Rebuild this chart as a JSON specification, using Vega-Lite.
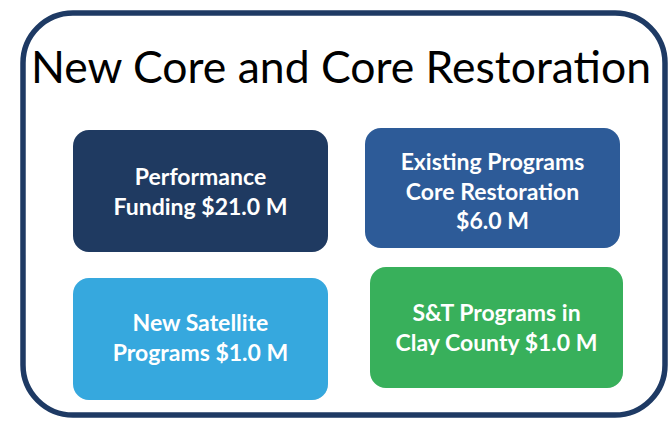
{
  "$schema": "https://vega.github.io/schema/vega-lite/v6.json",
  "width": 672,
  "height": 422,
  "padding": 0,
  "autosize": {"type": "fit", "contains": "padding"},
  "background": "white",
  "config": {"view": {"stroke": null}},
  "datasets": {
    "frame": [{"x0": 23, "x1": 665, "y0": 13, "y1": 415}],
    "title": [{"label": "New Core and Core Restoration", "x": 31, "y": 83}],
    "boxes": [
      {"name": "Performance Funding", "label": "Performance\nFunding $21.0 M", "x0": 73, "x1": 328, "y0": 130, "y1": 252, "tx": 200.5, "ty": 178},
      {"name": "Existing Programs", "label": "Existing Programs\nCore Restoration\n$6.0 M", "x0": 365, "x1": 620, "y0": 128, "y1": 248, "tx": 492.5, "ty": 163},
      {"name": "New Satellite", "label": "New Satellite\nPrograms $1.0 M", "x0": 73, "x1": 328, "y0": 278, "y1": 400, "tx": 200.5, "ty": 324},
      {"name": "S&T Clay County", "label": "S&T Programs in\nClay County $1.0 M", "x0": 370, "x1": 623, "y0": 267, "y1": 388, "tx": 496.5, "ty": 314}
    ]
  },
  "layer": [
    {
      "data": {"name": "frame"},
      "mark": {"type": "rect", "fill": "white", "stroke": "#1e3a64", "strokeWidth": 5.5, "cornerRadius": 50},
      "encoding": {
        "x": {"field": "x0", "type": "quantitative", "scale": {"domain": [0, 672], "nice": false, "zero": false}, "axis": null},
        "x2": {"field": "x1"},
        "y": {"field": "y0", "type": "quantitative", "scale": {"domain": [0, 422], "nice": false, "zero": false, "reverse": true}, "axis": null},
        "y2": {"field": "y1"}
      }
    },
    {
      "data": {"name": "boxes"},
      "mark": {"type": "rect", "fill": "#8a8a8a", "opacity": 0.3, "cornerRadius": 16, "xOffset": 2, "yOffset": 3},
      "encoding": {
        "x": {"field": "x0", "type": "quantitative"},
        "x2": {"field": "x1"},
        "y": {"field": "y0", "type": "quantitative"},
        "y2": {"field": "y1"}
      }
    },
    {
      "data": {"name": "boxes"},
      "mark": {"type": "rect", "cornerRadius": 16},
      "encoding": {
        "x": {"field": "x0", "type": "quantitative"},
        "x2": {"field": "x1"},
        "y": {"field": "y0", "type": "quantitative"},
        "y2": {"field": "y1"},
        "color": {
          "field": "name", "type": "nominal", "legend": null,
          "scale": {
            "domain": ["Performance Funding", "Existing Programs", "New Satellite", "S&T Clay County"],
            "range": ["#1f3a61", "#2d5b98", "#36a8de", "#38b05b"]
          }
        }
      }
    },
    {
      "data": {"name": "boxes"},
      "mark": {"type": "text", "font": "Lato", "fontWeight": "bold", "fontSize": 23, "color": "white", "align": "center", "baseline": "middle", "lineBreak": "\n", "lineHeight": 29.5},
      "encoding": {
        "x": {"field": "tx", "type": "quantitative"},
        "y": {"field": "ty", "type": "quantitative"},
        "text": {"field": "label", "type": "nominal"}
      }
    },
    {
      "data": {"name": "title"},
      "mark": {"type": "text", "font": "Lato", "fontSize": 44.5, "color": "black", "align": "left", "baseline": "alphabetic"},
      "encoding": {
        "x": {"field": "x", "type": "quantitative"},
        "y": {"field": "y", "type": "quantitative"},
        "text": {"field": "label", "type": "nominal"}
      }
    }
  ]
}
